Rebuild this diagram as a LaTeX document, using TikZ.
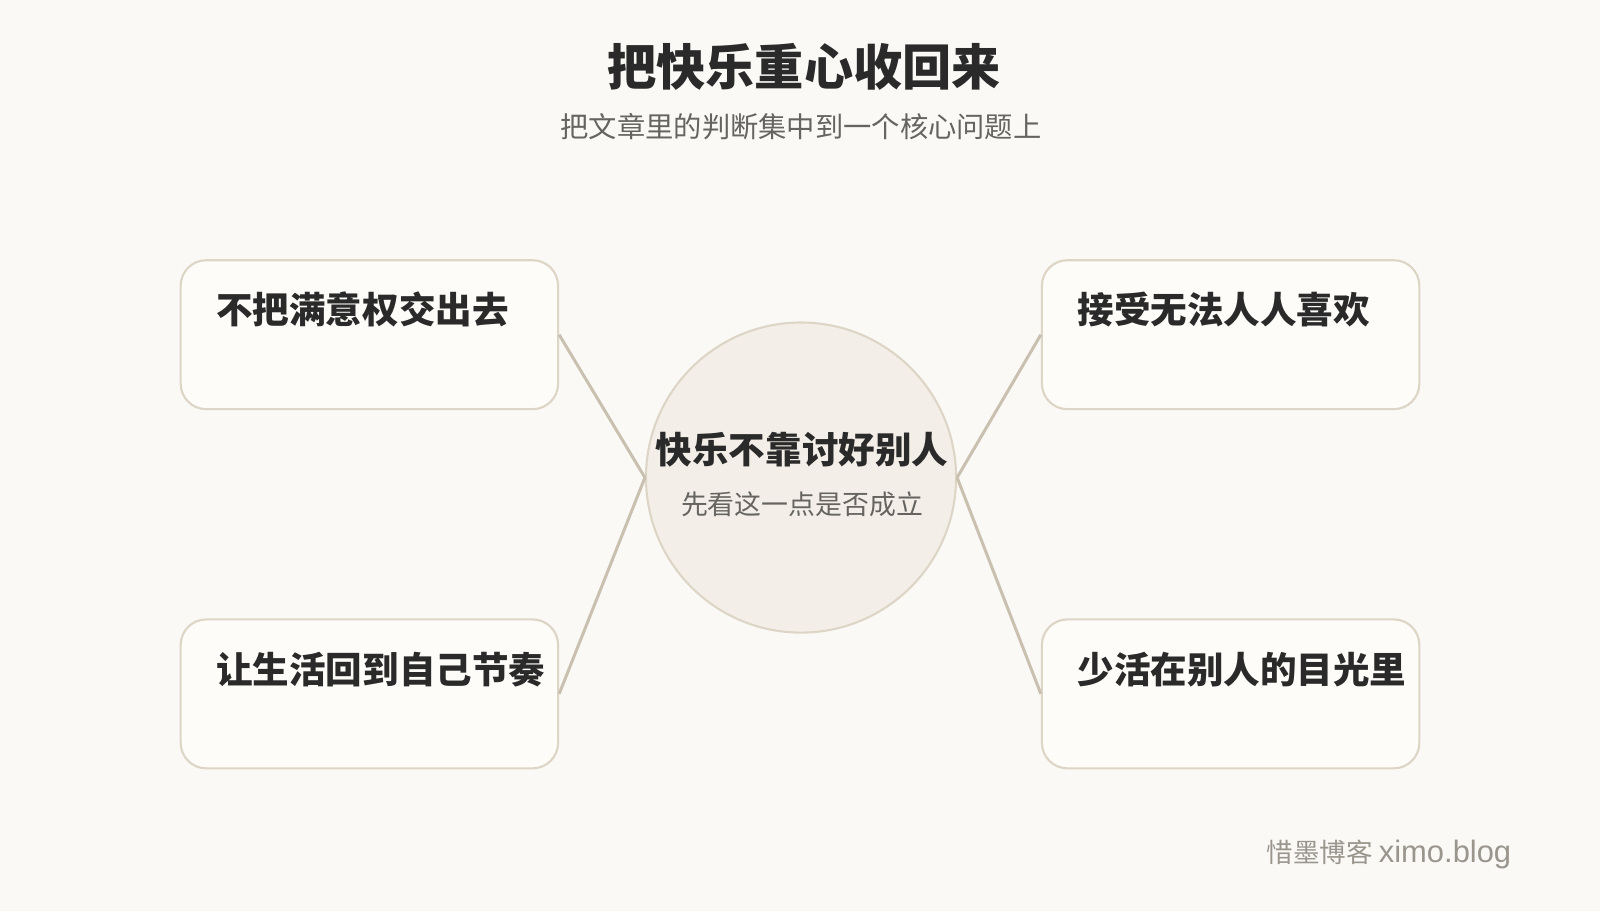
\documentclass[tikz,border=0pt]{standalone}
\usepackage{fontspec}
\setmainfont{Noto Sans CJK SC}
\newfontfamily\latinsans{Liberation Sans}
\usetikzlibrary{positioning}

\definecolor{paper}{HTML}{FAF9F6}
\definecolor{cardfill}{HTML}{FDFCF9}
\definecolor{cardline}{HTML}{DDD5C6}
\definecolor{hubfill}{HTML}{F3EFE8}
\definecolor{linkline}{HTML}{C9C0AF}
\definecolor{ink}{HTML}{2A2A2A}
\definecolor{softink}{HTML}{666460}
\definecolor{markink}{HTML}{9A968D}

\begin{document}
\begin{tikzpicture}[x=0.0102041cm, y=-0.0102041cm, semithick,
card/.style ={draw = cardline, fill = cardfill, line width = 0.6pt, rounded corners = 0.255cm,
  minimum width = 3.7755cm, minimum height = 1.4898cm, inner sep = 0pt},
cardtext/.style ={anchor = west, inner sep = 0pt, text = ink, font = \fontsize{10.4pt}{12pt}\selectfont\bfseries},
link/.style ={draw = linkline, line width = 0.85pt}]
\useasboundingbox[fill = paper] (0,0) rectangle (1568,893);

% title
\node[text = ink, font = \fontsize{14pt}{16pt}\selectfont\bfseries] (title) at (788,66) {把快乐重心收回来};
\node[text = softink, font = \fontsize{8.05pt}{10pt}\selectfont] (subtitle) at (785,124) {把文章里的判断集中到一个核心问题上};

% hub
\node[circle, draw = cardline, fill = hubfill, line width = 0.6pt, minimum size = 3.102cm, inner sep = 0pt] (hub) at (785,468) {};
\node[text = ink, font = \fontsize{10.4pt}{12pt}\selectfont\bfseries] (hubtitle) at (786,441) {快乐不靠讨好别人};
\node[text = softink, font = \fontsize{7.65pt}{9pt}\selectfont] (hubnote) at (786,494) {先看这一点是否成立};

% cards
\node[card] (tl) at (362,328) {};
\node[card] (bl) at (362,680) {};
\node[card] (tr) at (1206,328) {};
\node[card] (br) at (1206,680) {};

\node[cardtext] (tltext) at (211,303) {不把满意权交出去};
\node[cardtext] (bltext) at (211,656) {让生活回到自己节奏};
\node[cardtext] (trtext) at (1055,303) {接受无法人人喜欢};
\node[cardtext] (brtext) at (1055,656) {少活在别人的目光里};

% links
\path (tl.east) edge[link] (hub.west)
      (bl.east) edge[link] (hub.west)
      (hub.east) edge[link] (tr.west)
      (hub.east) edge[link] (br.west);

% footer
\node[anchor = east, inner sep = 0pt, text = markink, font = \fontsize{7.55pt}{9pt}\selectfont] (footer) at (1482,837) {惜墨博客 {\latinsans\fontsize{8.8pt}{9pt}\selectfont ximo.blog}};
\end{tikzpicture}
\end{document}
